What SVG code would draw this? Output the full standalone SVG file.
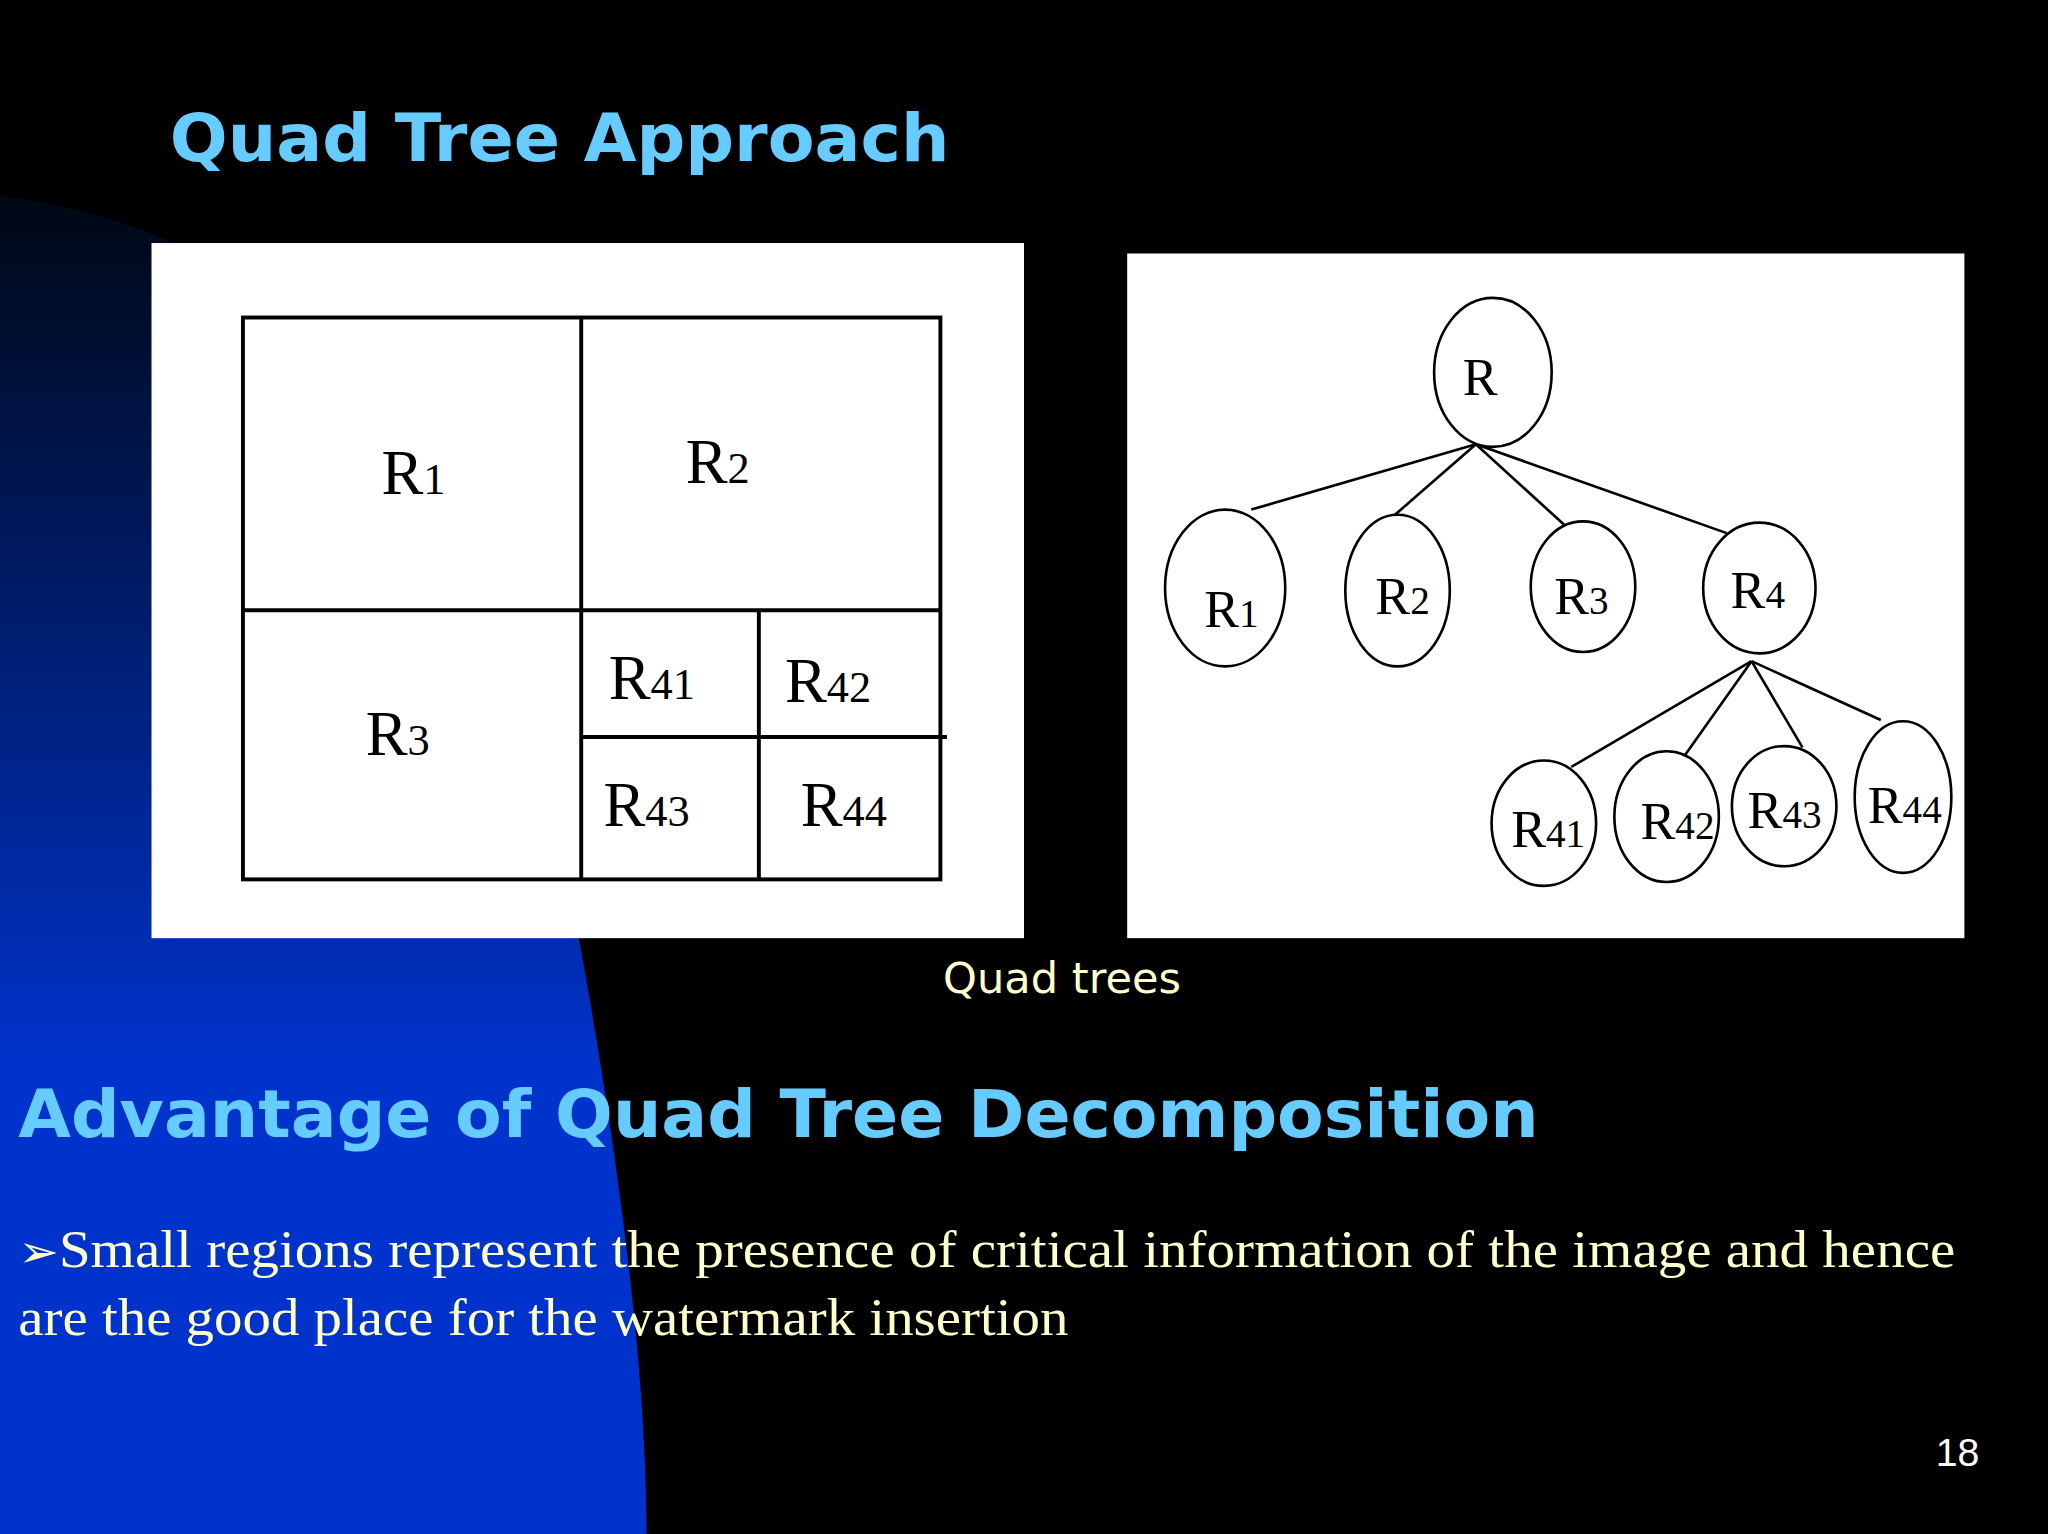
<svg xmlns="http://www.w3.org/2000/svg" width="2048" height="1534" viewBox="0 0 2048 1534">
<defs>
<linearGradient id="bg" x1="0" y1="150" x2="0" y2="820" gradientUnits="userSpaceOnUse">
<stop offset="0" stop-color="#000814"/><stop offset="1" stop-color="#0033cc"/>
</linearGradient>
<style>
.ln{stroke:#000;stroke-width:3;fill:none}
.nd{stroke:#000;stroke-width:2;fill:#fff}
.lb{font-family:"Liberation Serif",serif;font-size:48px;fill:#000}
.tl{font-family:"Liberation Serif",serif;font-size:40px;fill:#000}
.hd{font-family:"DejaVu Sans",sans-serif;font-weight:bold;fill:#66ccff}
.tx{font-family:"Liberation Serif",serif;font-size:40px;fill:#ffffcc}
</style>
</defs>
<rect width="2048" height="1534" fill="#000"/>
<g transform="scale(1.30612,1.30664)">
<path d="M0,150 Q350,190 440,700 Q495,1000 495,1174 L0,1174 Z" fill="url(#bg)"/>
<text class="hd" x="130" y="123" font-size="50" textLength="597" lengthAdjust="spacingAndGlyphs">Quad Tree Approach</text>
<g id="grid">
<rect x="116" y="186" width="668" height="532" fill="#fff"/>
<rect class="ln" x="186" y="243" width="534" height="430"/>
<line class="ln" x1="445" y1="243" x2="445" y2="673"/>
<line class="ln" x1="186" y1="467" x2="720" y2="467"/>
<line class="ln" x1="581" y1="467" x2="581" y2="673"/>
<line class="ln" x1="445" y1="564" x2="725" y2="564"/>
<text class="lb" x="292" y="378">R<tspan font-size="34">1</tspan></text>
<text class="lb" x="525" y="370">R<tspan font-size="34">2</tspan></text>
<text class="lb" x="280" y="578">R<tspan font-size="34">3</tspan></text>
<text class="lb" x="466" y="535">R<tspan font-size="34">41</tspan></text>
<text class="lb" x="601" y="537">R<tspan font-size="34">42</tspan></text>
<text class="lb" x="462" y="632">R<tspan font-size="34">43</tspan></text>
<text class="lb" x="613" y="632">R<tspan font-size="34">44</tspan></text>
</g>
<rect x="863" y="194" width="641" height="524" fill="#fff"/>
<g id="connectors" stroke="#000" stroke-width="2">
<line x1="1130" y1="340" x2="958" y2="390"/>
<line x1="1130" y1="340" x2="1068" y2="394"/>
<line x1="1130" y1="340" x2="1198" y2="402"/>
<line x1="1130" y1="340" x2="1322" y2="408"/>
<line x1="1341" y1="506" x2="1203" y2="587"/>
<line x1="1341" y1="506" x2="1290" y2="578"/>
<line x1="1341" y1="506" x2="1380" y2="572"/>
<line x1="1341" y1="506" x2="1440" y2="551"/>
</g>
<g id="R"><ellipse class="nd" cx="1143" cy="285" rx="45" ry="57"/><text class="tl" x="1120" y="302">R</text></g>
<g id="R1"><ellipse class="nd" cx="938" cy="450" rx="46" ry="60"/><text class="tl" x="922" y="480">R<tspan font-size="30">1</tspan></text></g>
<g id="R2"><ellipse class="nd" cx="1070" cy="452" rx="40" ry="58"/><text class="tl" x="1053" y="470">R<tspan font-size="30">2</tspan></text></g>
<g id="R3"><ellipse class="nd" cx="1212" cy="449" rx="40" ry="50"/><text class="tl" x="1190" y="470">R<tspan font-size="30">3</tspan></text></g>
<g id="R4"><ellipse class="nd" cx="1347" cy="450" rx="43" ry="50"/><text class="tl" x="1325" y="465">R<tspan font-size="30">4</tspan></text></g>
<g id="R41"><ellipse class="nd" cx="1182" cy="630" rx="40" ry="48"/><text class="tl" x="1157" y="648">R<tspan font-size="30">41</tspan></text></g>
<g id="R42"><ellipse class="nd" cx="1276" cy="625" rx="40" ry="50"/><text class="tl" x="1256" y="642">R<tspan font-size="30">42</tspan></text></g>
<g id="R43"><ellipse class="nd" cx="1366" cy="617" rx="40" ry="46"/><text class="tl" x="1338" y="634">R<tspan font-size="30">43</tspan></text></g>
<g id="R44"><ellipse class="nd" cx="1457" cy="610" rx="37" ry="58"/><text class="tl" x="1430" y="630">R<tspan font-size="30">44</tspan></text></g>
<text x="722" y="760" font-family="DejaVu Sans,sans-serif" font-size="33" fill="#ffffcc">Quad trees</text>
<text class="hd" x="14" y="870" font-size="50" textLength="1164" lengthAdjust="spacingAndGlyphs">Advantage of Quad Tree Decomposition</text>
<text class="tx" x="14" y="970" textLength="1483" lengthAdjust="spacingAndGlyphs"><tspan font-family="DejaVu Sans,sans-serif" font-size="34">➢</tspan>Small regions represent the presence of critical information of the image and hence</text>
<text class="tx" x="14" y="1022" textLength="804" lengthAdjust="spacingAndGlyphs">are the good place for the watermark insertion</text>
<text x="1482" y="1122" font-family="Liberation Sans,sans-serif" font-size="30" fill="#fff">18</text>
</g>
</svg>
